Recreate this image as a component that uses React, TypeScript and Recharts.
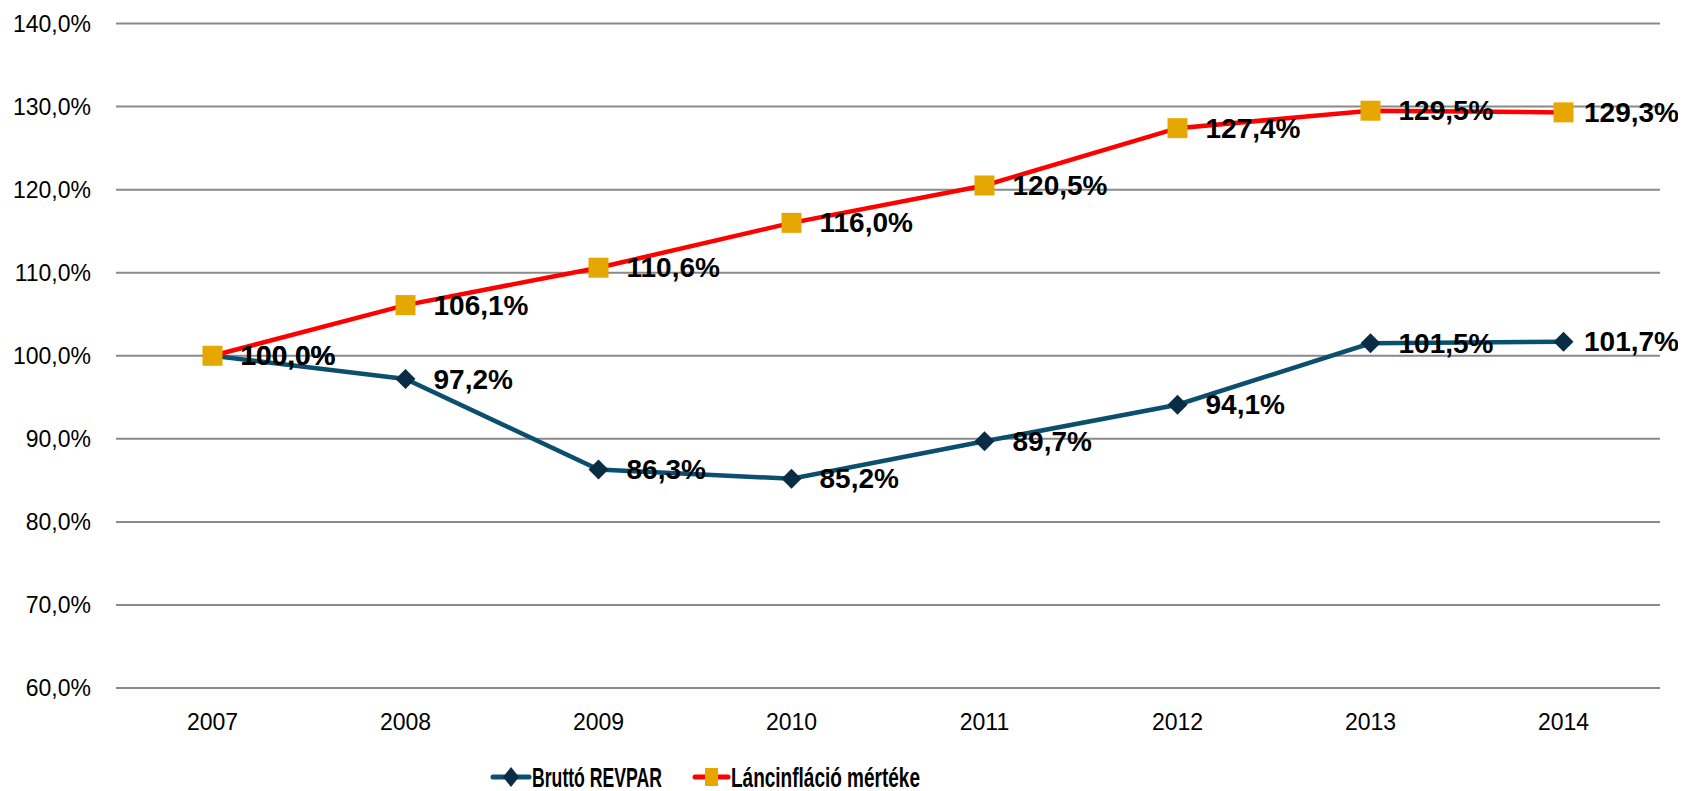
import React from "react";
import { LineChart, Line, XAxis, YAxis, CartesianGrid, Legend, LabelList } from "recharts";

const years = ["2007", "2008", "2009", "2010", "2011", "2012", "2013", "2014"];
const revpar = [100.0, 97.2, 86.3, 85.2, 89.7, 94.1, 101.5, 101.7];
const inflation = [100.0, 106.1, 110.6, 116.0, 120.5, 127.4, 129.5, 129.3];
const yTicks = [60, 70, 80, 90, 100, 110, 120, 130, 140];
const seriesNames = ["Bruttó REVPAR", "Láncinfláció mértéke"];

const data = years.map((y, i) => ({ year: y, revpar: revpar[i], inflation: inflation[i] }));

const BLUE = "#0B4F6F";
const DIAMOND = "#0A2D45";
const RED = "#FF0000";
const GOLD = "#E6A700";
const FONT = "'Liberation Sans', Arial, sans-serif";
const CHART_W = 1678;
const LABEL_W = 96;

const fmt = (v: number) => v.toFixed(1).replace(".", ",") + "%";

const Diamond = (p: any) => {
  const { cx, cy, index } = p;
  if (cx == null || cy == null) return <g key={index} />;
  const r = 10;
  return (
    <path
      key={"d" + index}
      d={`M${cx},${cy - r} L${cx + r},${cy} L${cx},${cy + r} L${cx - r},${cy} Z`}
      fill={DIAMOND}
    />
  );
};

const Square = (p: any) => {
  const { cx, cy, index } = p;
  if (cx == null || cy == null) return <g key={index} />;
  const s = 10;
  return <rect key={"s" + index} x={cx - s} y={cy - s} width={2 * s} height={2 * s} fill={GOLD} />;
};

const renderLabel = (p: any) => {
  const { x, y, value, index } = p;
  const tx = Math.min(x + 28, CHART_W - 6 - LABEL_W);
  return (
    <text
      key={"l" + index}
      x={tx}
      y={y}
      dominantBaseline="central"
      fontFamily={FONT}
      fontWeight="bold"
      fontSize={28}
      fill="#000"
    >
      {fmt(value)}
    </text>
  );
};

const LegendContent = () => (
  <svg width={460} height={28} style={{ overflow: "visible", display: "block" }}>
    <line x1={2} y1={14} x2={38} y2={14} stroke={BLUE} strokeWidth={5} strokeLinecap="round" />
    <path d="M20,4 L28,14 L20,24 L12,14 Z" fill={DIAMOND} />
    <text x={41} y={14} dominantBaseline="central" textLength={130} lengthAdjust="spacingAndGlyphs"
      fontFamily={FONT} fontWeight="bold" fontSize={28} fill="#000">{seriesNames[0]}</text>
    <line x1={204} y1={14} x2={237} y2={14} stroke={RED} strokeWidth={5} strokeLinecap="round" />
    <rect x={214} y={5} width={13} height={18} fill={GOLD} />
    <text x={240} y={14} dominantBaseline="central" textLength={189} lengthAdjust="spacingAndGlyphs"
      fontFamily={FONT} fontWeight="bold" fontSize={28} fill="#000">{seriesNames[1]}</text>
  </svg>
);

export default function App() {
  return (
    <LineChart width={CHART_W} height={783} data={data} margin={{ top: 15.5, right: 26, left: 0, bottom: 15 }}>
      <CartesianGrid vertical={false} stroke="#8a8a8a" strokeWidth={2} />
      <XAxis
        dataKey="year"
        axisLine={false}
        tickLine={false}
        tickSize={0}
        tickMargin={26}
        height={60}
        padding={{ left: 96.5, right: 96.5 }}
        tick={{ fontFamily: FONT, fontSize: 23, fill: "#000" }}
        interval={0}
      />
      <YAxis
        domain={[60, 140]}
        ticks={yTicks}
        width={108}
        axisLine={false}
        tickLine={false}
        tickSize={0}
        tickMargin={25}
        tickFormatter={fmt}
        tick={{ fontFamily: FONT, fontSize: 23, fill: "#000" }}
        interval={0}
      />
      <Line
        dataKey="revpar"
        name={seriesNames[0]}
        stroke={BLUE}
        strokeWidth={4.5}
        dot={Diamond}
        activeDot={false}
        isAnimationActive={false}
      >
        <LabelList dataKey="revpar" content={renderLabel} />
      </Line>
      <Line
        dataKey="inflation"
        name={seriesNames[1]}
        stroke={RED}
        strokeWidth={4.5}
        dot={Square}
        activeDot={false}
        isAnimationActive={false}
      >
        <LabelList dataKey="inflation" content={renderLabel} />
      </Line>
      <Legend
        content={LegendContent}
        wrapperStyle={{ position: "absolute", left: 483, top: 755, width: 460, height: 28 }}
      />
    </LineChart>
  );
}
